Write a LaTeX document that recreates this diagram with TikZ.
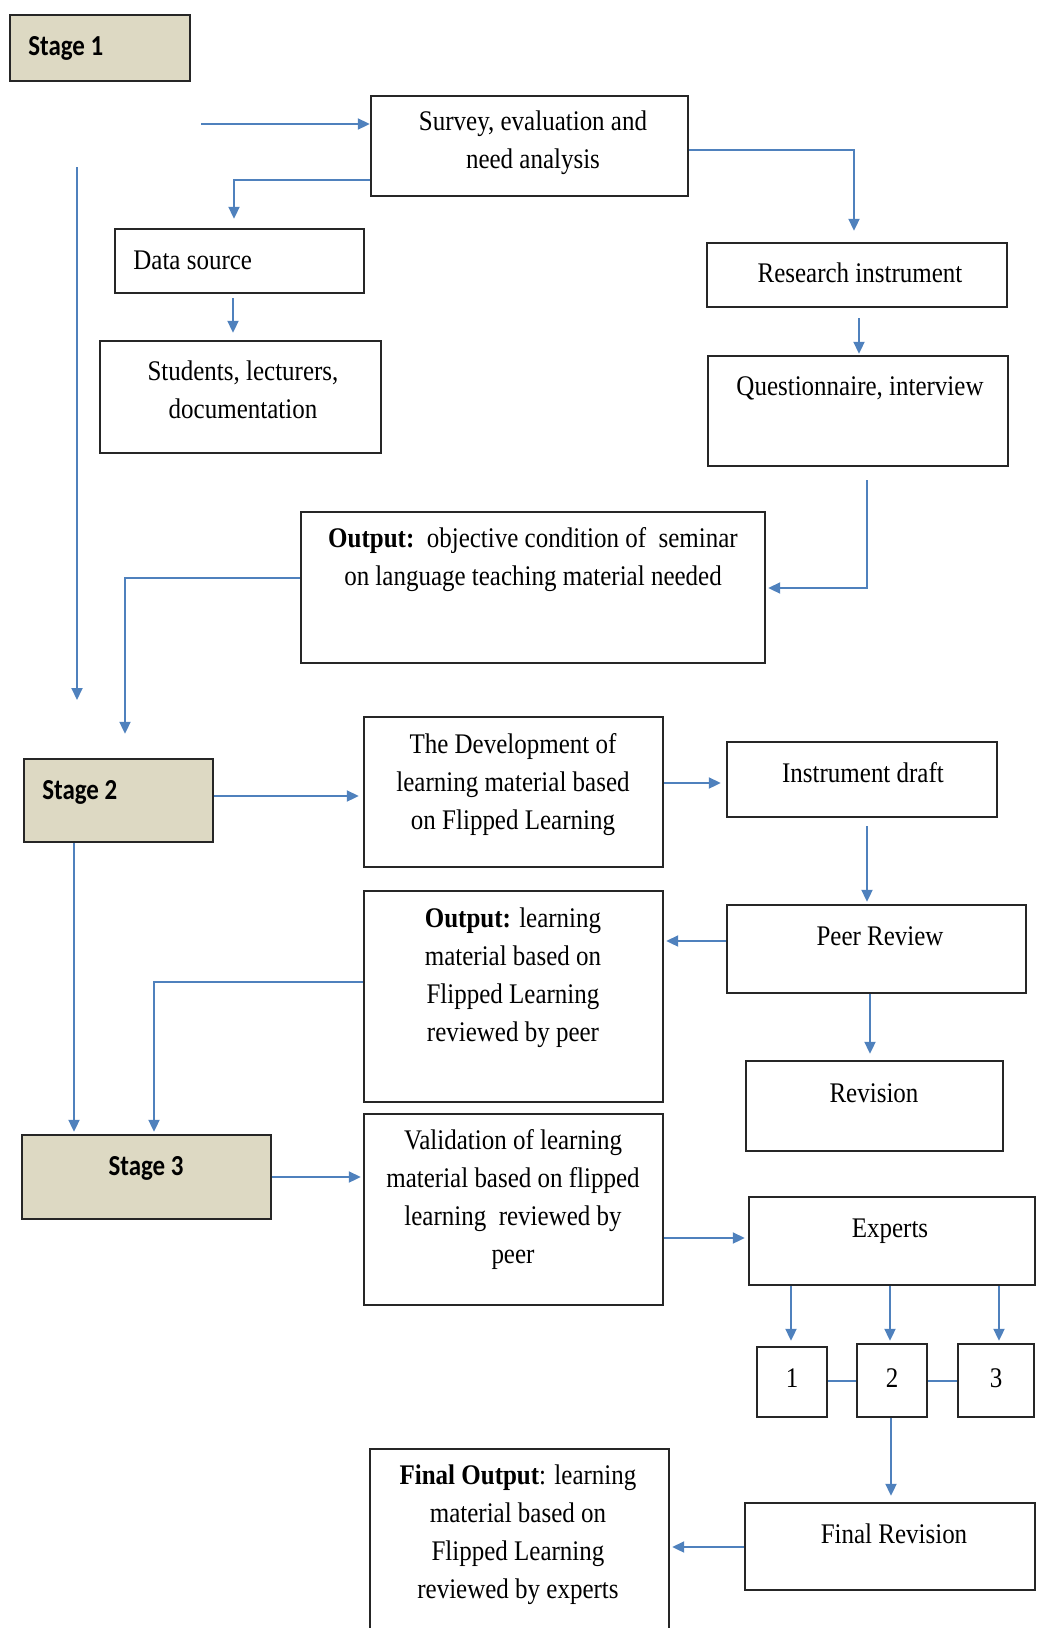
\documentclass[tikz,border=0pt]{standalone}
\usepackage{fontspec}
\setmainfont{Liberation Serif}[FakeStretch=0.88]
\newfontfamily\stagefont{Carlito}[FakeStretch=0.86]
\usetikzlibrary{arrows.meta}
\definecolor{arrblue}{RGB}{79,129,189}
\definecolor{stagetan}{RGB}{221,217,195}
\begin{document}
\begin{tikzpicture}[x=0.5pt,y=-0.5pt,
  box/.style={draw=black!85,line width=1.2pt,fill=white,inner sep=0pt},
  stagebox/.style={box,fill=stagetan},
  txt/.style={inner sep=0pt,align=center,font=\fontsize{14.2pt}{19pt}\selectfont},
  stagetxt/.style={inner sep=0pt,font=\stagefont\bfseries\fontsize{14.5pt}{16pt}\selectfont},
  arr/.style={draw=arrblue,line width=1pt,-{Triangle[length=6pt,width=5.5pt]}},
  conn/.style={draw=arrblue,line width=1pt}]
\useasboundingbox (0,0) rectangle (1037,1628);
% boxes
\node[stagebox,minimum width=90pt,minimum height=33pt] (stage1) at (100,48) {};
\node[box,minimum width=158.5pt,minimum height=50pt] (survey) at (529.5,146) {};
\node[box,minimum width=124.5pt,minimum height=32pt] (datasrc) at (239.5,261) {};
\node[box,minimum width=140.5pt,minimum height=56pt] (students) at (240.5,397) {};
\node[box,minimum width=150pt,minimum height=32pt] (research) at (857,275) {};
\node[box,minimum width=150pt,minimum height=55pt] (quest) at (858,411) {};
\node[box,minimum width=232pt,minimum height=75.5pt] (out1) at (533,587.5) {};
\node[stagebox,minimum width=94.5pt,minimum height=41.5pt] (stage2) at (118.5,800.5) {};
\node[box,minimum width=149.5pt,minimum height=75pt] (dev) at (513.5,792) {};
\node[box,minimum width=135pt,minimum height=37.5pt] (draft) at (862,779.5) {};
\node[box,minimum width=149.5pt,minimum height=44pt] (peer) at (876.5,949) {};
\node[box,minimum width=149.5pt,minimum height=105.5pt] (out2) at (513.5,996.5) {};
\node[box,minimum width=128.5pt,minimum height=45pt] (revision) at (874.5,1106) {};
\node[stagebox,minimum width=124.5pt,minimum height=42pt] (stage3) at (146.5,1177) {};
\node[box,minimum width=149.5pt,minimum height=95.5pt] (valid) at (513.5,1209.5) {};
\node[box,minimum width=143pt,minimum height=44pt] (experts) at (892,1241) {};
\node[box,minimum width=35pt,minimum height=35pt] (b1) at (792,1382) {};
\node[box,minimum width=35pt,minimum height=36.5pt] (b2) at (892,1380.5) {};
\node[box,minimum width=38pt,minimum height=36.5pt] (b3) at (996,1380.5) {};
\node[box,minimum width=145pt,minimum height=43.5pt] (finalrev) at (890,1546.5) {};
\node[box,minimum width=149.5pt,minimum height=105.5pt] (finalout) at (519.5,1554.5) {};
% texts
\node[stagetxt,anchor=west] (stage1T) at (28,48) {Stage 1};
\node[txt] (surveyT) at (533,143) {Survey, evaluation and\\need analysis};
\node[txt,anchor=west] (datasrcT) at (133,260) {Data source};
\node[txt] (studentsT) at (243,390) {Students, lecturers,\\documentation};
\node[txt] (researchT) at (860,273) {Research instrument};
\node[txt] (questT) at (860,388) {Questionnaire, interview};
\node[txt] (out1T) at (533,560) {\textbf{Output:}\ \ objective condition of\ \ seminar\\on language teaching material needed};
\node[stagetxt,anchor=west] (stage2T) at (42,792) {Stage 2};
\node[txt] (devT) at (513,785) {The Development of\\learning material based\\on Flipped Learning};
\node[txt] (draftT) at (863,773) {Instrument draft};
\node[txt] (peerT) at (880,936) {Peer Review};
\node[txt] (out2T) at (513,978) {\textbf{Output:} learning\\material based on\\Flipped Learning\\reviewed by peer};
\node[txt] (revT) at (874,1093) {Revision};
\node[stagetxt] (stage3T) at (146,1168) {Stage 3};
\node[txt] (validT) at (513,1200) {Validation of learning\\material based on flipped\\learning\ \ reviewed by\\peer};
\node[txt] (expertsT) at (890,1231) {Experts};
\node[txt] (b1T) at (792,1378) {1};
\node[txt] (b2T) at (892,1378) {2};
\node[txt] (b3T) at (996,1378) {3};
\node[txt] (finrevT) at (894,1534) {Final Revision};
\node[txt] (finoutT) at (518,1535) {\textbf{Final Output}: learning\\material based on\\Flipped Learning\\reviewed by experts};
% free-end coordinates
\coordinate (c1) at (201,124);
\coordinate (c2) at (77,167);
\coordinate (c3) at (77,700);
% connectors
\draw[arr] (c1) -- ([shift={(0,-22)}]survey.west);
\draw[arr] (c2) -- (c3);
\draw[arr] ([shift={(0,34)}]survey.west) -| ([shift={(-5.5,-9)}]datasrc.north);
\draw[arr] ([shift={(-6.5,4)}]datasrc.south) -- ([shift={(-7.5,-7)}]students.north);
\draw[arr] ([shift={(0,4)}]survey.east) -| ([shift={(-3,-11)}]research.north);
\draw[arr] ([shift={(2,10)}]research.south) -- ([shift={(1,-1)}]quest.north);
\draw[arr] ([shift={(9,13)}]quest.south) |- ([shift={(2,0.5)}]out1.east);
\draw[arr] ([shift={(0,-9.5)}]out1.west) -| ([shift={(6.5,-24)}]stage2.north);
\draw[arr] ([shift={(0,-4.5)}]stage2.east) -- ([shift={(-4,4)}]dev.west);
\draw[arr] ([shift={(0,-9)}]dev.east) -- ([shift={(-5,3.5)}]draft.west);
\draw[arr] ([shift={(5,8)}]draft.south) -- ([shift={(-9.5,-2)}]peer.north);
\draw[arr] ([shift={(-44.5,0)}]stage2.south) -- ([shift={(-72.5,-2)}]stage3.north);
\draw[arr] ([shift={(0,-8)}]peer.west) -- ([shift={(2,-55.5)}]out2.east);
\draw[arr] ([shift={(0,-14.5)}]out2.west) -| ([shift={(7.5,-2)}]stage3.north);
\draw[arr] ([shift={(-6.5,0)}]peer.south) -- ([shift={(-4.5,-6)}]revision.north);
\draw[arr] (stage3.east) -- ([shift={(-2,-32.5)}]valid.west);
\draw[arr] ([shift={(0,28.5)}]valid.east) -- ([shift={(-3,-3)}]experts.west);
\draw[arr] ([shift={(-101,0)}]experts.south) -- ([shift={(-1,-5)}]b1.north);
\draw[arr] ([shift={(-2,0)}]experts.south) -- ([shift={(-2,-2)}]b2.north);
\draw[arr] ([shift={(107,0)}]experts.south) -- ([shift={(3,-2)}]b3.north);
\draw[conn] ([shift={(0,-1.5)}]b1.east) -- (b2.west);
\draw[conn] (b2.east) -- (b3.west);
\draw[arr] ([shift={(-1,0)}]b2.south) -- ([shift={(1,-6)}]finalrev.north);
\draw[arr] ([shift={(0,0.5)}]finalrev.west) -- ([shift={(2,-7.5)}]finalout.east);
\end{tikzpicture}
\end{document}
